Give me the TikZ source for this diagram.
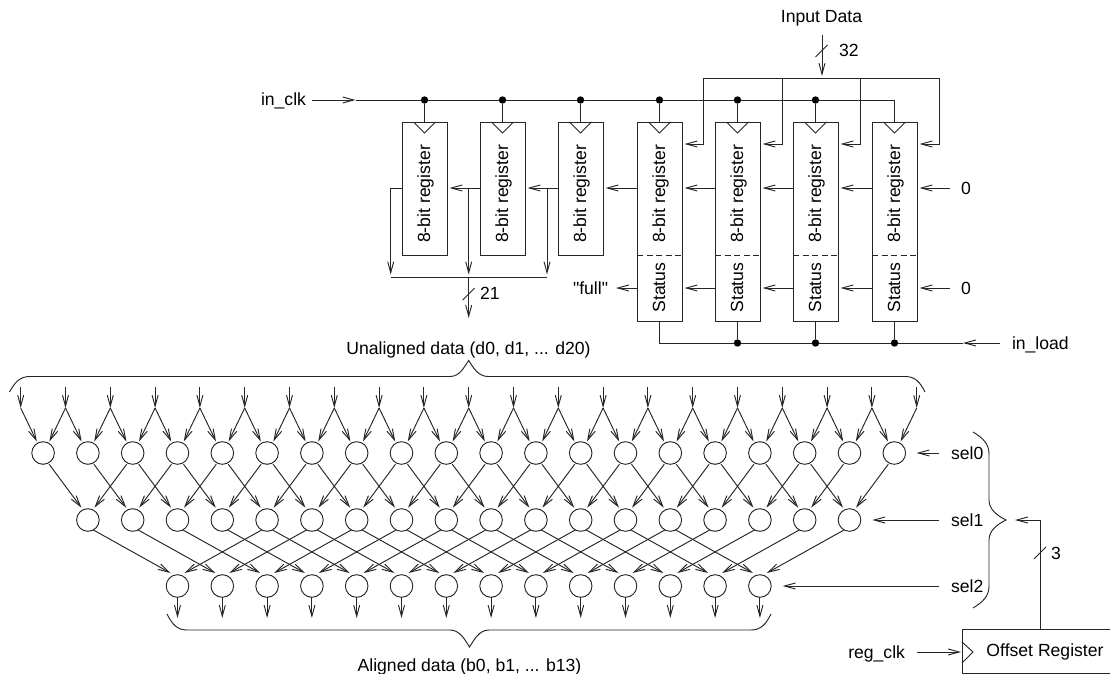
\documentclass[tikz,border=0pt]{standalone}
\usepackage{fontspec}
\setmainfont{Liberation Sans}
\newfontfamily\plainsans{Liberation Sans}
\usetikzlibrary{arrows.meta,calc}
\tikzset{
  wire/.style={line width=0.95pt,black!85},
  arr/.style={wire,-{Straight Barb[length=11pt,width=6pt]},shorten >=2.5pt},
  arr0/.style={wire,-{Straight Barb[length=11pt,width=6pt]}},
  lbl/.style={inner sep=0pt,outer sep=0pt,font=\fontsize{17.6}{20}\selectfont},
  regbox/.style={draw=black!85,line width=0.95pt,inner sep=0pt,outer sep=0pt,minimum width=45pt},
  mux/.style={circle,draw=black!85,line width=0.95pt,minimum size=22.6pt,inner sep=0pt,outer sep=0pt},
  junction/.style={circle,fill=black,minimum size=7.4pt,inner sep=0pt,outer sep=0pt},
}
\begin{document}
\begin{tikzpicture}[x=1pt,y=-1pt]
\useasboundingbox (0,0) rectangle (1110,674);
\clip (0,0) rectangle (1110,674);
% registers
\foreach \i/\cx in {1/424.5,2/502.5,3/580.5}{
  \node[regbox,minimum height=133pt] (r\i) at (\cx,188.5) {};
  \node[lbl,rotate=90,anchor=base] at (\cx+5.5,194) {8-bit register};
}
\foreach \i/\cx in {4/659.5,5/737.5,6/815.5,7/894.5}{
  \node[regbox,minimum height=199pt] (r\i) at (\cx,221.5) {};
  \node[lbl,rotate=90,anchor=base] at (\cx+5.5,194) {8-bit register};
  \node[lbl,rotate=90,anchor=base] at (\cx+5.5,287.5) {Status};
  \draw[wire,dashed,dash pattern=on 6pt off 3.5pt] (r\i.west |- 0,255) -- (r\i.east |- 0,255);
  \coordinate (sl\i) at (\cx-22.5,288);
  \coordinate (sr\i) at (\cx+22.5,288);
}
\foreach \i/\cx in {1/424.5,2/502.5,3/580.5,4/659.5,5/737.5,6/815.5,7/894.5}{
  \draw[wire] (\cx-11,122) -- (\cx,133) -- (\cx+11,122);
  \coordinate (ck\i) at (\cx,100);
  \coordinate (dl\i) at (\cx-22.5,188);
  \coordinate (dr\i) at (\cx+22.5,188);
}
% clock
\node[lbl,anchor=base east,inner xsep=6pt] (lclk) at (312,106) {in\_clk};
\coordinate (clkmid) at (355.5,100);
\draw[arr0] (lclk.east |- ck1) -- (clkmid);
\draw[wire] (clkmid) -- (ck7) -- (r7.north);
\foreach \i in {1,...,6}{
  \node[junction] (j\i) at (ck\i) {};
  \draw[wire] (j\i) -- (r\i.north);
}
% input data bus
\node[lbl,anchor=base] (linput) at (821.5,23) {Input Data};
\coordinate (intop) at (822,35);
\coordinate (bus) at (822,78.5);
\draw[arr] (intop) -- (bus);
\coordinate (s32) at (821.5,51);
\draw[wire] ([shift={(-6,6)}]s32) -- ([shift={(6,-6)}]s32);
\node[lbl,anchor=base west] at (839,56.5) {32};
\foreach \i/\xx in {4/703,5/782,6/860.5,7/939}{
  \coordinate (b\i) at (\xx,78.5);
  \coordinate (c\i) at (\xx,144);
  \draw[arr] (b\i) -- (c\i) -- (r\i.east |- c\i);
}
\draw[wire] (b4) -- (b7);
% data shift chain
\node[lbl,anchor=base west,inner xsep=11pt] (z1) at (950,194) {0};
\draw[arr] (z1.west |- dr7) -- (dr7);
\draw[arr] (dl7) -- (dr6);
\draw[arr] (dl6) -- (dr5);
\draw[arr] (dl5) -- (dr4);
\draw[arr] (dl4) -- (dr3);
\draw[arr] (dl3) -- (dr2);
\draw[arr] (dl2) -- (dr1);
% status chain
\node[lbl,anchor=base west,inner xsep=11pt] (z2) at (950,294) {0};
\draw[arr] (z2.west |- sr7) -- (sr7);
\draw[arr] (sl7) -- (sr6);
\draw[arr] (sl6) -- (sr5);
\draw[arr] (sl5) -- (sr4);
\node[lbl,anchor=base east,inner xsep=5.5pt] (lfull) at (613.5,294) {\plainsans "full"};
\draw[arr] (sl4) -- (lfull.east |- sl4);
% load
\node[lbl,anchor=base west,inner xsep=12pt] (lload) at (1000,349) {in\_load};
\coordinate (ld) at (659.5,343);
\coordinate (ldmid) at (963,343);
\draw[arr0] (lload.west |- ld) -- (ldmid);
\draw[wire] (ldmid) -- (ld) -- (r4.south);
\foreach \i in {5,6,7}{
  \node[junction] (k\i) at (r\i.south |- ld) {};
  \draw[wire] (k\i) -- (r\i.south);
}
% 21-bit collection
\coordinate (t1) at (390.7,188);
\coordinate (t2) at (468.7,188);
\coordinate (t3) at (547,188);
\coordinate (h1) at (390.7,277);
\coordinate (h2) at (468.7,277);
\coordinate (h3) at (547,277);
\coordinate (out21) at (468.7,318);
\draw[arr] (dl1) -- (t1) -- (h1);
\draw[arr] (t2) -- (h2);
\draw[arr] (t3) -- (h3);
\draw[wire] (h1) -- (h3);
\draw[arr0] (h2) -- (out21);
\coordinate (s21) at (468.7,294);
\draw[wire] ([shift={(-6,6)}]s21) -- ([shift={(6,-6)}]s21);
\node[lbl,anchor=base west] at (480,299.5) {21};
% top brace
\node[lbl,anchor=base] at (468.5,354) {Unaligned data (d0, d1, ... d20)};
\draw[wire] (9.5,392) .. controls (15,382) and (20,376.5) .. (30,376.5) -- (450,376.5)
  .. controls (460,376.5) and (464,367) .. (468.7,360.5)
  .. controls (473,367) and (478,376.5) .. (488,376.5) -- (905,376.5)
  .. controls (915,376.5) and (920,382) .. (925,392);
% mux network
\foreach \i in {0,...,20}{
  \coordinate (t\i n) at ({20.7+44.8*\i},387);
  \coordinate (a\i) at ({20.7+44.8*\i},408);
  \draw[arr0] (t\i n) -- (a\i);
}
\foreach \i in {0,...,19}{ \node[mux] (ma\i) at ({43.1+44.8*\i},453) {}; }
\foreach \i in {0,...,17}{ \node[mux] (mb\i) at ({87.9+44.8*\i},520) {}; }
\foreach \i in {0,...,13}{ \node[mux] (mc\i) at ({177.5+44.8*\i},586) {}; }
\foreach \i in {0,...,19}{
  \pgfmathtruncatemacro{\n}{\i+1}
  \draw[arr0] (a\i) -- ([shift={(-6.3,-11.5)}]ma\i.center);
  \draw[arr0] (a\n) -- ([shift={(6.3,-11.5)}]ma\i.center);
}
\foreach \i in {0,...,17}{
  \pgfmathtruncatemacro{\n}{\i+2}
  \draw[arr0] ([shift={(6,11.2)}]ma\i.center) -- ([shift={(-6.5,-12.3)}]mb\i.center);
  \draw[arr0] ([shift={(-6,11.2)}]ma\n.center) -- ([shift={(6.5,-12.3)}]mb\i.center);
}
\foreach \i in {0,...,13}{
  \pgfmathtruncatemacro{\n}{\i+4}
  \draw[arr0] ([shift={(5.5,10)}]mb\i.center) -- ([shift={(-7,-13)}]mc\i.center);
  \draw[arr0] ([shift={(-5.5,10)}]mb\n.center) -- ([shift={(7,-13)}]mc\i.center);
  \coordinate (o\i) at ({177.5+44.8*\i},618);
  \draw[arr0] (mc\i) -- (o\i);
}
% bottom brace
\draw[wire] (167,614) .. controls (172,624) and (177,630) .. (187,630) -- (450,630)
  .. controls (460,630) and (465,640) .. (469.5,647)
  .. controls (474,640) and (479,630) .. (489,630) -- (751,630)
  .. controls (761,630) and (766,624) .. (771,614);
\node[lbl,anchor=base] at (469.5,671) {Aligned data (b0, b1, ... b13)};
% selects
\node[lbl,anchor=base west,inner xsep=12pt] (sel0) at (939,459) {sel0};
\node[lbl,anchor=base west,inner xsep=12pt] (sel1) at (939,526) {sel1};
\node[lbl,anchor=base west,inner xsep=12pt] (sel2) at (939,592) {sel2};
\draw[arr0,shorten >=11pt] (sel0.west |- ma19) -- (ma19.east);
\draw[arr0,shorten >=11.5pt] (sel1.west |- mb17) -- (mb17.east);
\draw[arr0,shorten >=11.5pt] (sel2.west |- mc13) -- (mc13.east);
% right brace
\draw[wire] (973,432) .. controls (983,438) and (989,444) .. (989,454) -- (989,500)
  .. controls (989,510) and (998,516) .. (1006,520)
  .. controls (998,524) and (989,530) .. (989,540) -- (989,586)
  .. controls (989,596) and (983,602) .. (973,608);
% offset register
\node[draw=black!85,line width=0.95pt,inner sep=0pt,outer sep=0pt,minimum width=166pt,minimum height=43.5pt,
      font=\fontsize{17.6}{20}\selectfont] (off) at (1045,651.7) {Offset Register};
\draw[wire] (962,642) -- (973,652) -- (962,663);
\node[lbl,anchor=base east,inner xsep=12pt] (lreg) at (917,658) {reg\_clk};
\draw[arr0] (lreg.east |- 0,652) -- (961,652);
\coordinate (ocorner) at (1040,520);
\coordinate (otip) at (1015,520);
\draw[arr0] (off.north -| ocorner) -- (ocorner) -- (otip);
\coordinate (s3) at (1040,553);
\draw[wire] ([shift={(-6,6)}]s3) -- ([shift={(6,-6)}]s3);
\node[lbl,anchor=base west] at (1051,559) {3};
\end{tikzpicture}
\end{document}
